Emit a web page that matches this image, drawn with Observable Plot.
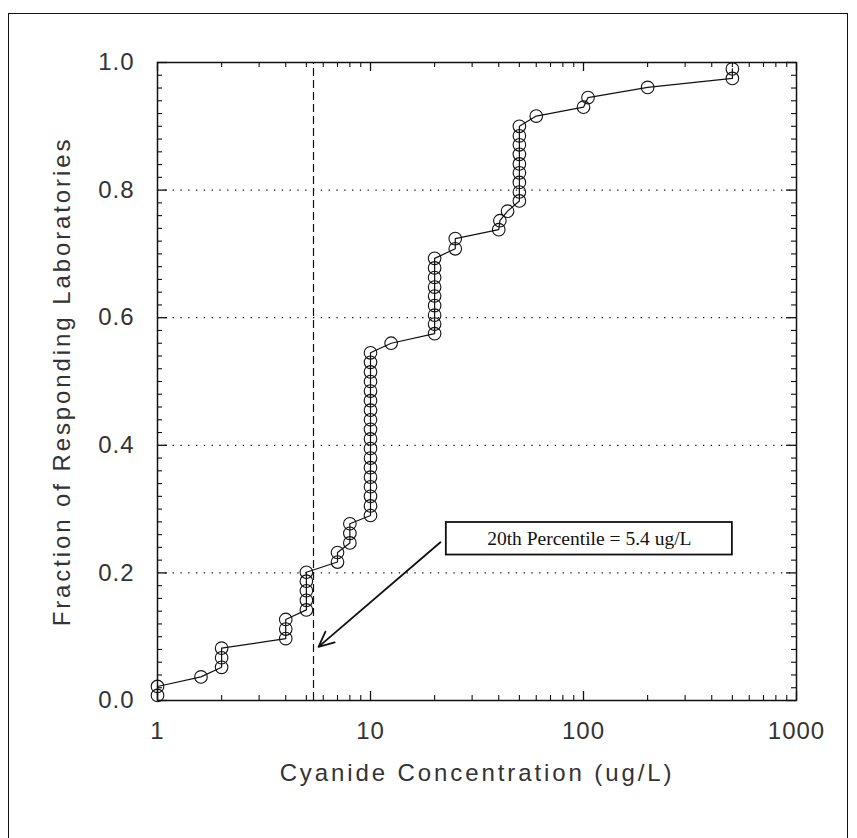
<!DOCTYPE html>
<html>
<head>
<meta charset="utf-8">
<script src="https://cdn.jsdelivr.net/npm/d3@7"></script>
<script src="https://cdn.jsdelivr.net/npm/@observablehq/plot@0.6"></script>
<style>
  html, body { margin: 0; padding: 0; background: #fff; }
  #wrap { position: relative; width: 857px; height: 838px; overflow: hidden; background: #fff; }
  #chart { position: absolute; left: 0; top: 0; z-index: 1; }
  #border { position: absolute; left: 8px; top: 13px; width: 838px; height: 840px; z-index: 2;
            border: 1.5px solid #111; border-bottom: none; pointer-events: none; }
  #chart svg text { letter-spacing: 1px; }
</style>
</head>
<body>
<div id="wrap"><div id="chart"></div><div id="border"></div></div>
<script>
// Concentration of each responding laboratory (ug/L), sorted
const concentration = [
  1, 1,
  1.6,
  2, 2, 2,
  4, 4, 4,
  5, 5, 5, 5, 5,
  7, 7,
  8, 8, 8,
  10, 10, 10, 10, 10, 10, 10, 10, 10, 10, 10, 10, 10, 10, 10, 10, 10, 10,
  12.5,
  20, 20, 20, 20, 20, 20, 20, 20, 20,
  25, 25,
  40, 40.5, 44,
  50, 50, 50, 50, 50, 50, 50, 50, 50,
  60,
  100, 105,
  200,
  500, 500
];
// Cumulative fraction of responding laboratories
const fraction = [
  0.008, 0.022,
  0.037,
  0.052, 0.067, 0.082,
  0.097, 0.112, 0.127,
  0.142, 0.157, 0.172, 0.187, 0.201,
  0.217, 0.232,
  0.247, 0.262, 0.277,
  0.290, 0.305, 0.320, 0.335, 0.350, 0.365, 0.380, 0.395, 0.410, 0.425, 0.440, 0.455, 0.470, 0.485, 0.500, 0.515, 0.530, 0.545,
  0.560,
  0.575, 0.590, 0.604, 0.619, 0.634, 0.648, 0.663, 0.678, 0.693,
  0.708, 0.724,
  0.738, 0.752, 0.767,
  0.783, 0.797, 0.812, 0.827, 0.841, 0.856, 0.871, 0.885, 0.900,
  0.916,
  0.930, 0.945,
  0.961,
  0.975, 0.990
];

const xTicks = [1, 10, 100, 1000];
const xMinorTicks = [2,3,4,5,6,7,8,9, 20,30,40,50,60,70,80,90, 200,300,400,500,600,700,800,900];
const yTicks = [0, 0.2, 0.4, 0.6, 0.8, 1.0];
const yMinorTicks = [0.02,0.04,0.06,0.08,0.1,0.12,0.14,0.16,0.18,
                     0.22,0.24,0.26,0.28,0.3,0.32,0.34,0.36,0.38,
                     0.42,0.44,0.46,0.48,0.5,0.52,0.54,0.56,0.58,
                     0.62,0.64,0.66,0.68,0.7,0.72,0.74,0.76,0.78,
                     0.82,0.84,0.86,0.88,0.9,0.92,0.94,0.96,0.98];
const gridY = [0.2, 0.4, 0.6, 0.8];
const percentile20 = [5.4];
const xLabel = "Cyanide Concentration (ug/L)";
const yLabel = "Fraction of Responding Laboratories";
const noteText = "20th Percentile = 5.4 ug/L";
const noteBox = [{x1: 22.7, x2: 500, y1: 0.228, y2: 0.279, xc: 106.5, yc: 0.2535}];
const noteArrow = [{x1: 21.3, y1: 0.248, x2: 5.7, y2: 0.084}];

const points = concentration.map((c, i) => ({c, f: fraction[i]}));

const W = 857, H = 838;
const mL = 157, mR = 61, mT = 62, mB = 138;
const pw = W - mL - mR, ph = H - mT - mB;
const sans = "'Liberation Sans', Arial, Helvetica, sans-serif";
const ink = "#111";
const textInk = "#333";

const chart = Plot.plot({
  width: W,
  height: H,
  marginLeft: mL, marginRight: mR, marginTop: mT, marginBottom: mB,
  style: {fontFamily: sans, fontSize: "24px", background: "white", color: ink},
  x: {type: "log", domain: [1, 1000]},
  y: {domain: [0, 1]},
  marks: [
    Plot.ruleY(gridY, {stroke: ink, strokeWidth: 1.3, strokeDasharray: "1.3,6.5"}),
    Plot.ruleX(percentile20, {y1: 0, y2: 1, stroke: ink, strokeWidth: 1.2, strokeDasharray: "8,4"}),
    // inward ticks: bottom & top (x), left & right (y)
    Plot.ruleX(xTicks, {insetTop: ph - 9, stroke: ink, strokeWidth: 1.3}),
    Plot.ruleX(xTicks, {insetBottom: ph - 9, stroke: ink, strokeWidth: 1.3}),
    Plot.ruleX(xMinorTicks, {insetTop: ph - 5, stroke: ink, strokeWidth: 1.1}),
    Plot.ruleX(xMinorTicks, {insetBottom: ph - 5, stroke: ink, strokeWidth: 1.1}),
    Plot.ruleY(yTicks, {insetRight: pw - 10, stroke: ink, strokeWidth: 1.3}),
    Plot.ruleY(yTicks, {insetLeft: pw - 10, stroke: ink, strokeWidth: 1.3}),
    Plot.ruleY(yMinorTicks, {insetRight: pw - 5, stroke: ink, strokeWidth: 1.1}),
    Plot.ruleY(yMinorTicks, {insetLeft: pw - 5, stroke: ink, strokeWidth: 1.1}),
    Plot.frame({stroke: ink, strokeWidth: 1.5}),
    Plot.axisX(xTicks, {tickSize: 0, tickPadding: 21, tickFormat: d => String(d), label: null,
      fontSize: 24, fill: textInk}),
    Plot.axisY(yTicks, {tickSize: 0, tickPadding: 23, tickFormat: d3.format(".1f"), label: null,
      fontSize: 24, fill: textInk}),
    Plot.text([xLabel], {text: d => d, frameAnchor: "bottom", dy: 80, fontSize: 24,
      textAnchor: "middle", fill: textInk}),
    Plot.text([yLabel], {text: d => d, frameAnchor: "left", dx: -95, rotate: -90, fontSize: 24,
      textAnchor: "middle", fill: textInk}),
    Plot.line(points, {x: "c", y: "f", stroke: ink, strokeWidth: 1.2}),
    Plot.dot(points, {x: "c", y: "f", r: 6.3, stroke: ink, strokeWidth: 1.1, fill: "none"}),
    Plot.arrow(noteArrow, {x1: "x1", y1: "y1", x2: "x2", y2: "y2", stroke: ink,
      strokeWidth: 1.8, headLength: 14, headAngle: 50}),
    Plot.rect(noteBox, {x1: "x1", x2: "x2", y1: "y1", y2: "y2", fill: "white", stroke: ink, strokeWidth: 1.8}),
    Plot.text(noteBox, {x: "xc", y: "yc", text: () => noteText, fontSize: 19.5,
      fontFamily: "'Liberation Serif', 'Times New Roman', serif", fill: ink})
  ]
});
// per-text letter spacing: wide axis titles, none in the serif note
d3.select(chart).selectAll("text").each(function () {
  const t = this.textContent;
  if (t === xLabel || t === yLabel) this.style.letterSpacing = "2.9px";
  else if (t === noteText) this.style.letterSpacing = "0px";
});
document.getElementById("chart").appendChild(chart);
</script>
</body>
</html>
